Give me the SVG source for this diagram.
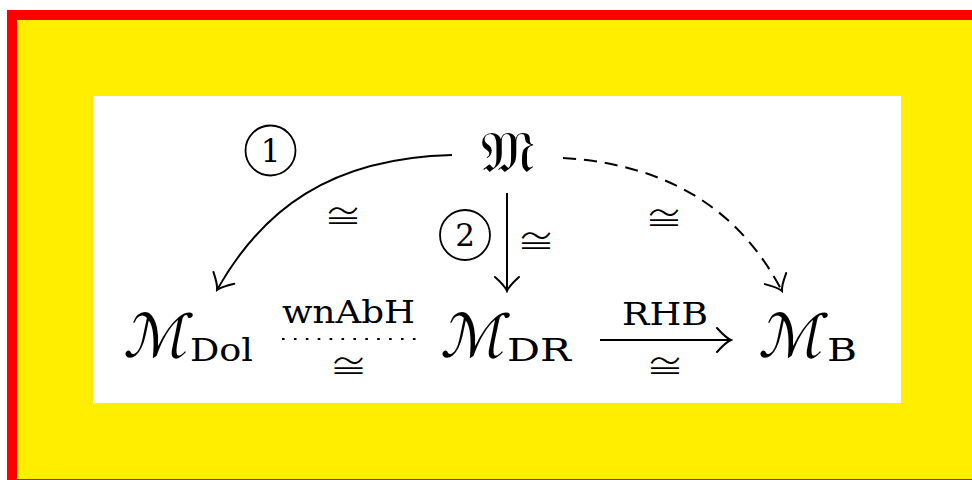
<svg xmlns="http://www.w3.org/2000/svg" width="972" height="480" viewBox="0 0 972 480">
<style>
text{font-family:"DejaVu Serif",serif;fill:#000}
.cong{font-family:"Noto Sans CJK JP","DejaVu Sans",sans-serif;font-weight:300;font-size:38px;text-anchor:middle}
.big{font-family:"DejaVu Serif","DejaVu Sans",serif;font-size:60px}
.sub{font-family:"DejaVu Serif",serif;font-size:32px}
.lab{font-family:"DejaVu Serif",serif;font-size:31px}
.num{font-size:31px;text-anchor:middle}
.edge{fill:none;stroke:#000;stroke-width:2}
</style>
<defs>
<marker id="to" viewBox="-16 -14 18 28" markerWidth="18" markerHeight="28" refX="0" refY="0" orient="auto" markerUnits="userSpaceOnUse">
<path d="M -14 -12 Q -5 -2 0 0 Q -5 2 -14 12" fill="none" stroke="#000" stroke-width="2" stroke-linecap="round"/>
</marker>
</defs>
<rect x="0" y="0" width="972" height="480" fill="#fff"/>
<rect x="7" y="10" width="970" height="475" fill="#ff0000"/>
<rect x="17" y="20" width="960" height="459" fill="#ffee00"/>
<rect x="93" y="96" width="808" height="307" fill="#fff"/>

<g id="edges">
<path class="edge" d="M 452 155 C 330 158 262 210 217 290" marker-end="url(#to)"/>
<path class="edge" d="M 507 193 L 507 291" marker-end="url(#to)"/>
<path class="edge" d="M 563 158 C 680 165 745 220 782 291" stroke-dasharray="13 8" marker-end="url(#to)"/>
<path class="edge" d="M 282 339 L 416 339" stroke-dasharray="2.6 9.3" stroke-width="2.6"/>
<path class="edge" d="M 600 340 L 731 340" marker-end="url(#to)"/>
<text class="cong" x="343" y="229">≅</text>
<text class="cong" x="536" y="254">≅</text>
<text class="cong" x="664" y="231">≅</text>
<text class="cong" x="348.5" y="379">≅</text>
<text class="cong" x="665" y="379">≅</text>
<text class="lab" x="282" y="323" textLength="133" lengthAdjust="spacingAndGlyphs">wnAbH</text>
<text class="lab" x="622" y="325" textLength="86" lengthAdjust="spacingAndGlyphs">RHB</text>
</g>

<g id="mark1">
<circle cx="270.5" cy="150.5" r="25" fill="none" stroke="#000" stroke-width="1.8"/>
<text class="num" x="270.5" y="161.5">1</text>
</g>
<g id="mark2">
<circle cx="465" cy="235" r="25" fill="none" stroke="#000" stroke-width="1.8"/>
<text class="num" x="465" y="246">2</text>
</g>

<g id="node-M">
<text x="507" y="172" font-size="58" text-anchor="middle">𝔐</text>
</g>
<g id="node-Dol">
<text class="big" transform="translate(123 357) skewX(-12)">ℳ</text>
<text class="sub" x="190" y="361" textLength="63" lengthAdjust="spacingAndGlyphs">Dol</text>
</g>
<g id="node-DR">
<text class="big" transform="translate(440 357) skewX(-12)">ℳ</text>
<text class="sub" x="507" y="361" textLength="64" lengthAdjust="spacingAndGlyphs">DR</text>
</g>
<g id="node-B">
<text class="big" transform="translate(758 357) skewX(-12)">ℳ</text>
<text class="sub" x="827" y="361" textLength="30" lengthAdjust="spacingAndGlyphs">B</text>
</g>
</svg>
